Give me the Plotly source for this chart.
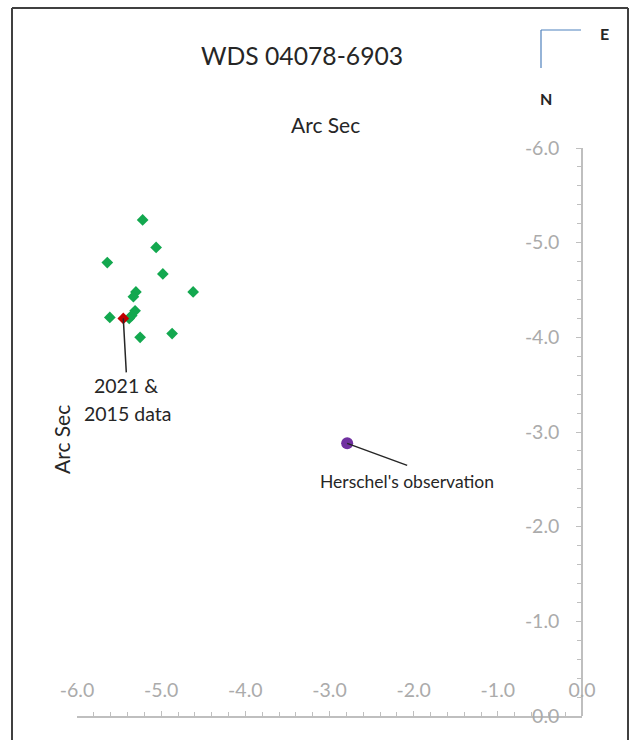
import plotly.graph_objects as go

W, H = 633, 740

# ---------------- data ----------------
recent_x = [-5.22, -5.06, -5.64, -4.98, -4.62, -5.30, -5.33, -5.31, -5.35, -5.61, -5.25, -4.87, -5.38]
recent_y = [-5.24, -4.95, -4.79, -4.67, -4.48, -4.48, -4.43, -4.28, -4.23, -4.21, -4.00, -4.04, -4.20]
latest_x = [-5.45]
latest_y = [-4.20]
herschel_x = [-2.79]
herschel_y = [-2.88]

tick_vals = [-6, -5, -4, -3, -2, -1, 0]
tick_text = ["-6.0", "-5.0", "-4.0", "-3.0", "-2.0", "-1.0", "0.0"]

title_text = "WDS 04078-6903"
axis_title = "Arc Sec"

FONT = "Lato"
GRAY = "#ababab"
LINE = "#bfbfbf"
TXT = "#262626"


def px(x):
    return x / W


def py(y):
    return 1 - y / H


fig = go.Figure()

fig.add_trace(go.Scatter(
    x=recent_x, y=recent_y, mode="markers",
    marker=dict(symbol="diamond", size=9, color="#13a84f"),
    showlegend=False, hoverinfo="skip"))
fig.add_trace(go.Scatter(
    x=latest_x, y=latest_y, mode="markers",
    marker=dict(symbol="diamond", size=9, color="#c00000"),
    showlegend=False, hoverinfo="skip"))
fig.add_trace(go.Scatter(
    x=herschel_x, y=herschel_y, mode="markers",
    marker=dict(symbol="circle", size=12, color="#7030a0"),
    showlegend=False, hoverinfo="skip"))
# empty trace to create the label-only x axis
fig.add_trace(go.Scatter(x=[], y=[], xaxis="x2", yaxis="y", showlegend=False))

xdom = [px(77), px(582)]
ydom = [py(716), py(148)]

fig.update_layout(
    width=W, height=H, autosize=False,
    margin=dict(l=0, r=0, t=0, b=0, autoexpand=False),
    paper_bgcolor="white", plot_bgcolor="white",
    font=dict(family=FONT),
    xaxis=dict(
        domain=xdom, range=[-6, 0], anchor="y",
        showgrid=False, zeroline=False,
        showline=True, linecolor=LINE, linewidth=1.5,
        tickvals=tick_vals, ticks="inside", ticklen=5, tickcolor=LINE,
        showticklabels=False,
        minor=dict(dtick=0.2, ticks="inside", ticklen=4, tickcolor=LINE),
    ),
    xaxis2=dict(
        domain=xdom, range=[-6, 0], overlaying="x", anchor="free",
        position=py(676), side="bottom",
        showgrid=False, zeroline=False, showline=False, ticks="",
        tickvals=tick_vals, ticktext=tick_text,
        tickfont=dict(size=19.5, color=GRAY, family=FONT),
    ),
    yaxis=dict(
        domain=ydom, range=[0, -6], anchor="free", position=px(582), side="left",
        showgrid=False, zeroline=False,
        showline=True, linecolor=LINE, linewidth=1.5,
        tickvals=tick_vals, ticktext=tick_text,
        ticks="outside", ticklen=5, tickcolor=LINE,
        minor=dict(dtick=0.2, ticks="outside", ticklen=4, tickcolor=LINE),
        tickfont=dict(size=19.5, color=GRAY, family=FONT),
        ticklabelstandoff=13,
    ),
)


def label(x, y, text, size, **kw):
    d = dict(x=px(x), y=py(y), xref="paper", yref="paper", text=text,
             showarrow=False, xanchor="center", yanchor="middle",
             font=dict(size=size, color=TXT))
    d.update(kw)
    return d


anns = [
    label(302, 55, title_text, 24.7),
    label(325, 124, axis_title, 21),
    label(61, 440, axis_title, 21, textangle=-90),
    label(604, 34, "<b>E</b>", 16),
    label(546, 99, "<b>N</b>", 16),
    # leader + label for recent data
    dict(x=latest_x[0], y=latest_y[0], xref="x", yref="y", text="2021 &",
         showarrow=True, arrowhead=0, arrowwidth=1.5, arrowcolor=TXT,
         ax=3, ay=54, xanchor="center", yanchor="top",
         font=dict(size=19.5, color=TXT)),
    dict(x=latest_x[0], y=latest_y[0], xref="x", yref="y", text="2015 data",
         showarrow=False, xshift=4, yshift=-95, xanchor="center", yanchor="middle",
         font=dict(size=19.5, color=TXT)),
    # Herschel
    dict(x=herschel_x[0], y=herschel_y[0], xref="x", yref="y",
         text="Herschel's observation",
         showarrow=True, arrowhead=0, arrowwidth=1.5, arrowcolor=TXT,
         ax=60, ay=22, xanchor="center", yanchor="top", borderpad=5,
         font=dict(size=17.5, color=TXT)),
]
fig.update_layout(annotations=anns)

shapes = [
    # chart border (left, top, right edges)
    dict(type="line", xref="paper", yref="paper",
         x0=px(12), x1=px(12), y0=0, y1=py(8),
         line=dict(color="#404040", width=2)),
    dict(type="line", xref="paper", yref="paper",
         x0=px(12), x1=px(628), y0=py(8), y1=py(8),
         line=dict(color="#404040", width=2)),
    dict(type="line", xref="paper", yref="paper",
         x0=px(628), x1=px(628), y0=0, y1=py(8),
         line=dict(color="#404040", width=2)),
    # compass
    dict(type="line", xref="paper", yref="paper",
         x0=px(541), x1=px(581), y0=py(30), y1=py(30),
         line=dict(color="#4f81bd", width=1.2)),
    dict(type="line", xref="paper", yref="paper",
         x0=px(541), x1=px(541), y0=py(30), y1=py(68),
         line=dict(color="#4f81bd", width=1.2)),
]
fig.update_layout(shapes=shapes)

fig.write_html(
    "out.html",
    config={"displayModeBar": False},
    post_script="document.body.style.margin='0px';document.body.style.overflow='hidden';",
)
